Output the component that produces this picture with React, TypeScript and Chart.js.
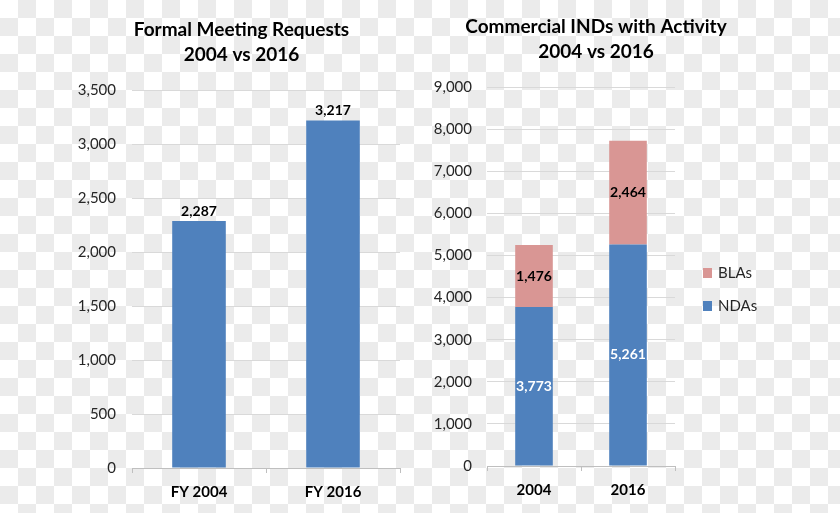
import React, { useEffect, useRef } from 'react';
import { Chart, registerables } from 'chart.js';

Chart.register(...registerables);

// ---- data ----
const meetingCategories = ['FY 2004', 'FY 2016'];
const meetingRequests = [2287, 3217];
const meetingAxisMax = 3500;
const meetingAxisStep = 500;

const indCategories = ['2004', '2016'];
const ndaValues = [3773, 5261];
const blaValues = [1476, 2464];
const indAxisMax = 9000;
const indAxisStep = 1000;

const BLUE = '#4f81bd';
const PINK = '#d99694';
const FONT = 'Lato';

const fmt = (v: number) => v.toLocaleString('en-US');

const valueLabels = {
  id: 'valueLabels',
  afterDatasetsDraw(chart: any, _args: any, opts: any) {
    const ctx = chart.ctx;
    chart.data.datasets.forEach((ds: any, di: number) => {
      const meta = chart.getDatasetMeta(di);
      meta.data.forEach((bar: any, i: number) => {
        const text = fmt(ds.data[i]);
        ctx.save();
        ctx.font = `bold 14px ${FONT}`;
        ctx.textAlign = 'center';
        if (opts.mode === 'top') {
          ctx.textBaseline = 'bottom';
          ctx.fillStyle = '#000';
          ctx.fillText(text, bar.x, bar.y - 3);
        } else {
          ctx.textBaseline = 'middle';
          ctx.fillStyle = ds.valueColor || '#000';
          ctx.fillText(text, bar.x, (bar.y + bar.base) / 2);
        }
        ctx.restore();
      });
    });
  },
};

// simple side legend (top item = last dataset), drawn next to the plot area
const sideLegend = {
  id: 'sideLegend',
  afterDraw(chart: any, _args: any, opts: any) {
    if (!opts || !opts.show) return;
    const ctx = chart.ctx;
    const area = chart.chartArea;
    const items = chart.data.datasets.map((d: any) => ({ label: d.label, color: d.backgroundColor })).reverse();
    const rowGap = 33;
    const midY = (area.top + area.bottom) / 2 + 13;
    const startY = midY - ((items.length - 1) * rowGap) / 2;
    const x = area.right + 28;
    items.forEach((it: any, i: number) => {
      const cy = startY + i * rowGap;
      ctx.save();
      ctx.fillStyle = it.color;
      ctx.fillRect(x, cy - 5, 9, 10);
      ctx.fillStyle = '#262626';
      ctx.font = `15px ${FONT}`;
      ctx.textAlign = 'left';
      ctx.textBaseline = 'middle';
      ctx.fillText(it.label, x + 15, cy);
      ctx.restore();
    });
  },
};

const titleFont = { family: FONT, size: 19, weight: 'bold', lineHeight: '25px' };

export default function App() {
  const leftRef = useRef<HTMLCanvasElement>(null);
  const rightRef = useRef<HTMLCanvasElement>(null);

  useEffect(() => {
    const left = new Chart(leftRef.current!, {
      type: 'bar',
      data: {
        labels: meetingCategories,
        datasets: [
          {
            label: 'Formal Meeting Requests',
            data: meetingRequests,
            backgroundColor: BLUE,
            borderWidth: 0,
            barPercentage: 0.4,
            categoryPercentage: 1,
          },
        ],
      },
      plugins: [valueLabels],
      options: {
        animation: false,
        responsive: false,
        layout: { padding: 0 },
        plugins: {
          legend: { display: false },
          tooltip: { enabled: false },
          title: {
            display: true,
            text: ['Formal Meeting Requests', '2004 vs 2016'],
            color: '#000',
            font: titleFont,
            padding: { top: 17, bottom: 23 },
          },
          valueLabels: { mode: 'top' },
        } as any,
        scales: {
          x: {
            grid: { display: true, drawOnChartArea: false, drawTicks: true, tickLength: 5, color: '#bfbfbf', offset: true },
            border: { display: true, color: '#bfbfbf' },
            ticks: { font: { family: FONT, size: 15, weight: 'bold' }, color: '#000', padding: 10 },
            afterFit: (s: any) => { s.height = 45; },
          },
          y: {
            min: 0,
            max: meetingAxisMax,
            ticks: {
              stepSize: meetingAxisStep,
              padding: 16,
              font: { family: FONT, size: 15 },
              color: '#262626',
              callback: (v: any) => fmt(Number(v)),
            },
            grid: { color: '#d9d9d9', drawTicks: false },
            border: { display: false },
            afterFit: (s: any) => { s.width = 132; },
          },
          yPad: {
            position: 'right',
            display: true,
            grid: { display: false },
            ticks: { display: false },
            border: { display: false },
            afterFit: (s: any) => { s.width = 83; },
          },
        },
      } as any,
    });

    const right = new Chart(rightRef.current!, {
      type: 'bar',
      data: {
        labels: indCategories,
        datasets: [
          {
            label: 'NDAs',
            data: ndaValues,
            backgroundColor: BLUE,
            borderWidth: 0,
            barPercentage: 0.4,
            categoryPercentage: 1,
            valueColor: '#fff',
          } as any,
          {
            label: 'BLAs',
            data: blaValues,
            backgroundColor: PINK,
            borderWidth: 0,
            barPercentage: 0.4,
            categoryPercentage: 1,
            valueColor: '#000',
          } as any,
        ],
      },
      plugins: [valueLabels, sideLegend],
      options: {
        animation: false,
        responsive: false,
        layout: { padding: { left: 0, right: 68, top: 0, bottom: 0 } },
        plugins: {
          tooltip: { enabled: false },
          legend: { display: false },
          title: {
            display: true,
            text: ['Commercial INDs with Activity', '2004 vs 2016'],
            color: '#000',
            font: titleFont,
            padding: { top: 14, bottom: 23 },
          },
          valueLabels: { mode: 'center' },
          sideLegend: { show: true },
        } as any,
        scales: {
          x: {
            stacked: true,
            grid: { display: true, drawOnChartArea: false, drawTicks: true, tickLength: 5, color: '#bfbfbf', offset: true },
            border: { display: true, color: '#bfbfbf' },
            ticks: { font: { family: FONT, size: 15, weight: 'bold' }, color: '#000', padding: 10 },
            afterFit: (s: any) => { s.height = 47; },
          },
          y: {
            stacked: true,
            min: 0,
            max: indAxisMax,
            ticks: {
              stepSize: indAxisStep,
              padding: 15,
              font: { family: FONT, size: 15 },
              color: '#262626',
              callback: (v: any) => fmt(Number(v)),
            },
            grid: { color: '#d9d9d9', drawTicks: false },
            border: { display: false },
            afterFit: (s: any) => { s.width = 67; },
          },
          yPad: {
            position: 'right',
            display: true,
            grid: { display: false },
            ticks: { display: false },
            border: { display: false },
            afterFit: (s: any) => { s.width = 97; },
          },
        },
      } as any,
    });

    return () => {
      left.destroy();
      right.destroy();
    };
  }, []);

  return (
    <div
      style={{
        position: 'fixed',
        left: 0,
        top: 0,
        width: 840,
        height: 513,
        overflow: 'hidden',
        backgroundColor: '#fff',
        backgroundImage: 'conic-gradient(#ebebeb 25%, #ffffff 0 50%, #ebebeb 0 75%, #ffffff 0)',
        backgroundSize: '36px 36px',
      }}
    >
      <canvas ref={leftRef} width={483} height={513} style={{ position: 'absolute', left: 0, top: 0 }} />
      <canvas ref={rightRef} width={420} height={513} style={{ position: 'absolute', left: 420, top: 0 }} />
    </div>
  );
}
